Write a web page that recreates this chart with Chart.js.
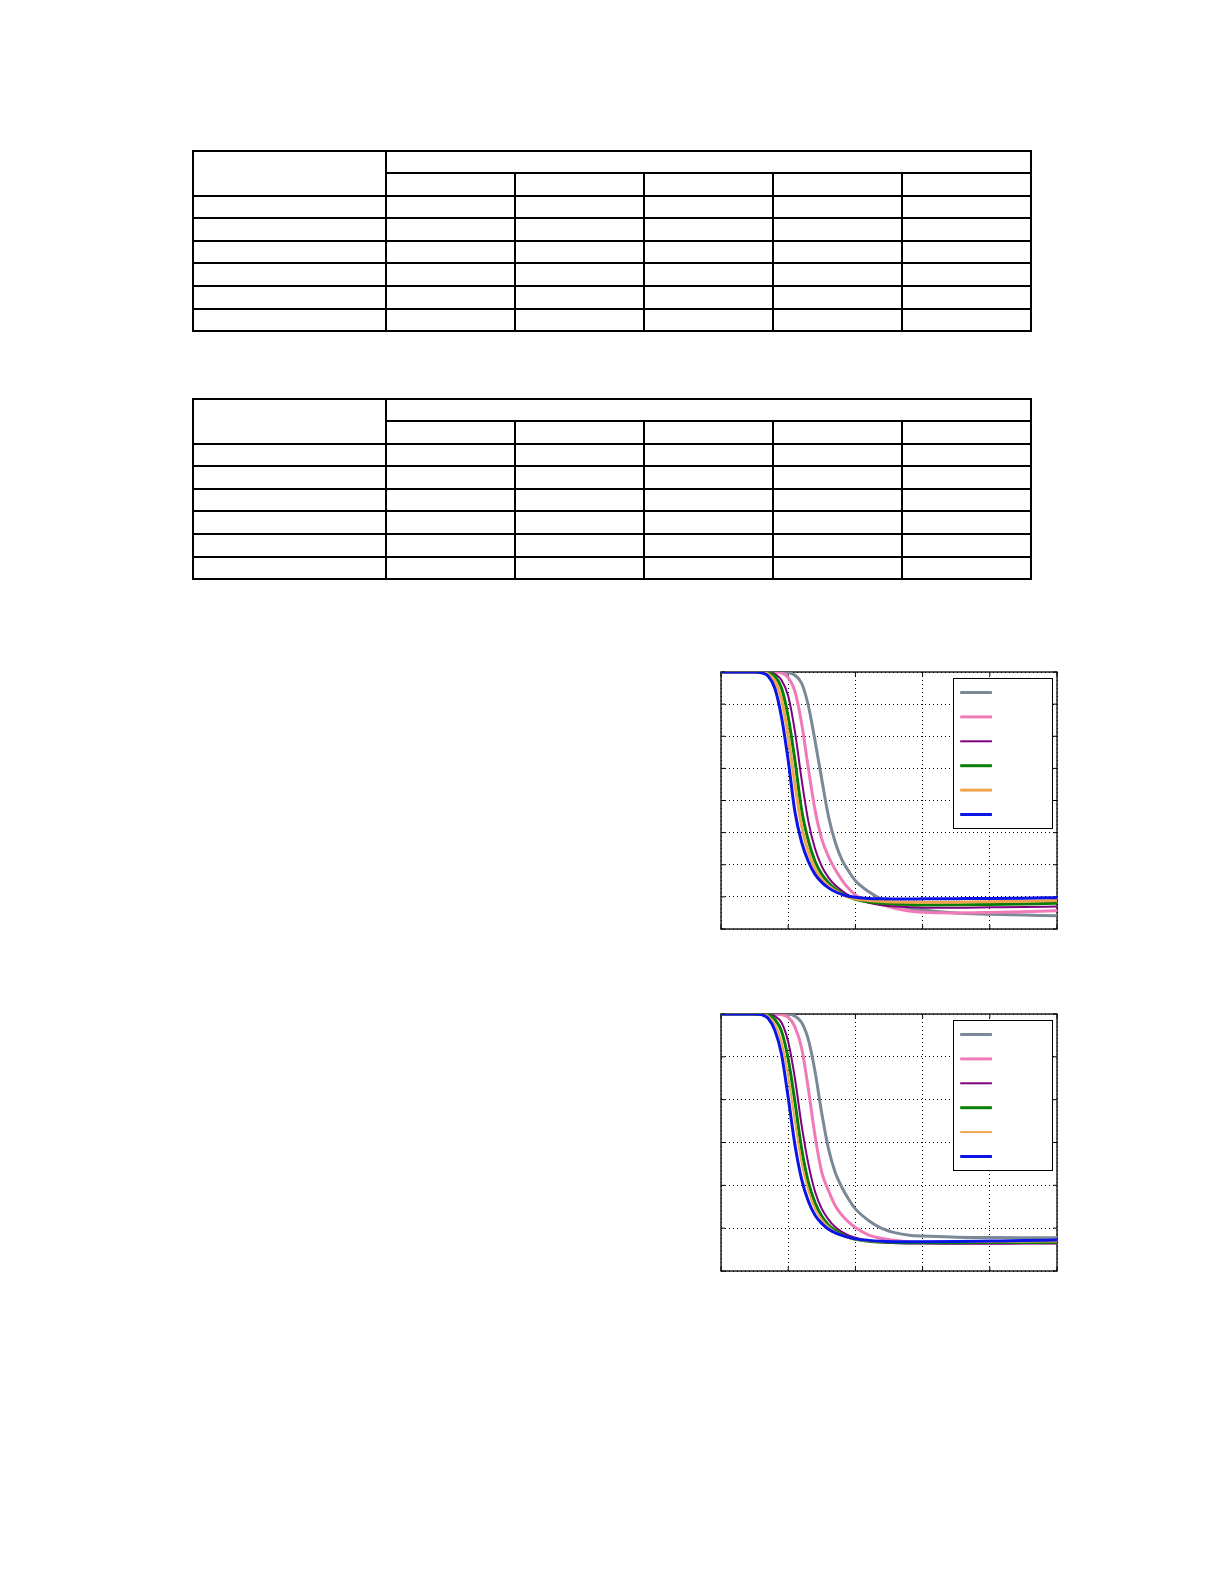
<!DOCTYPE html>
<html>
<head>
<meta charset="utf-8">
<script src="https://cdn.jsdelivr.net/npm/chart.js@4.4.0/dist/chart.umd.min.js"></script>
<style>
  body { margin: 0; background: #fff; font-family: "Liberation Serif", serif; }
  .page { position: relative; width: 1225px; height: 1585px; }
  table.grid { position: absolute; border-collapse: collapse; table-layout: fixed; width: 838px; }
  table.grid td { border: 2px solid #000; padding: 0; height: 20.6px; }
  canvas { position: absolute; }
</style>
</head>
<body>
<div class="page">
  <table class="grid" id="tabla1" style="left:192px; top:149.5px"></table>
  <table class="grid" id="tabla2" style="left:192px; top:397.5px"></table>
  <canvas id="chart-top" width="344" height="265" style="left:716.7px; top:668px"></canvas>
  <canvas id="chart-bottom" width="344" height="265" style="left:716.7px; top:1009.7px"></canvas>
</div>

<script>
/**
 * * datos (sin textos en la imagen)
 */
const xValues = [0, 0.5, 0.6, 0.7, 0.8, 0.9, 1.0, 1.1, 1.2, 1.3, 1.4, 1.5, 1.6, 1.7, 1.8, 1.9, 2.0, 2.2, 2.4, 2.6, 2.8, 3.0, 3.5, 4.0, 4.5, 5.0]

//* grafico superior
const topGrey   = [1.6, 1.6, 1.6, 1.6, 1.6, 1.6, 1.597, 1.58, 1.53, 1.39, 1.17, 0.93, 0.7, 0.54, 0.43, 0.36, 0.3, 0.232, 0.183, 0.15, 0.13, 0.118, 0.099, 0.092, 0.087, 0.082]
const topPink   = [1.6, 1.6, 1.6, 1.6, 1.6, 1.595, 1.565, 1.48, 1.28, 1.0, 0.74, 0.56, 0.45, 0.37, 0.305, 0.252, 0.212, 0.172, 0.15, 0.128, 0.112, 0.104, 0.1, 0.103, 0.108, 0.113]
const topPurple = [1.6, 1.6, 1.6, 1.6, 1.588, 1.55, 1.45, 1.23, 0.93, 0.67, 0.5, 0.39, 0.32, 0.272, 0.238, 0.21, 0.19, 0.163, 0.148, 0.14, 0.136, 0.133, 0.133, 0.135, 0.137, 0.14]
const topGreen  = [1.6, 1.6, 1.6, 1.595, 1.575, 1.5, 1.32, 1.05, 0.74, 0.55, 0.42, 0.34, 0.288, 0.25, 0.222, 0.2, 0.185, 0.168, 0.16, 0.155, 0.152, 0.15, 0.151, 0.153, 0.156, 0.16]
const topOrange = [1.6, 1.6, 1.598, 1.587, 1.545, 1.43, 1.2, 0.9, 0.64, 0.48, 0.375, 0.31, 0.268, 0.238, 0.215, 0.198, 0.188, 0.177, 0.171, 0.168, 0.166, 0.166, 0.167, 0.17, 0.173, 0.177]
const topBlue   = [1.6, 1.6, 1.595, 1.575, 1.5, 1.32, 1.05, 0.73, 0.54, 0.42, 0.34, 0.29, 0.256, 0.232, 0.216, 0.204, 0.197, 0.19, 0.188, 0.187, 0.187, 0.188, 0.189, 0.19, 0.192, 0.195]

//* grafico inferior
const botGrey   = [1.2, 1.2, 1.2, 1.2, 1.2, 1.2, 1.2, 1.19, 1.16, 1.08, 0.93, 0.735, 0.57, 0.46, 0.39, 0.335, 0.29, 0.235, 0.198, 0.178, 0.167, 0.163, 0.158, 0.156, 0.155, 0.155]
const botPink   = [1.2, 1.2, 1.2, 1.2, 1.2, 1.197, 1.185, 1.14, 1.04, 0.85, 0.63, 0.46, 0.375, 0.305, 0.26, 0.228, 0.203, 0.168, 0.152, 0.142, 0.136, 0.134, 0.132, 0.132, 0.132, 0.132]
const botPurple = [1.2, 1.2, 1.2, 1.2, 1.19, 1.16, 1.07, 0.9, 0.68, 0.5, 0.37, 0.29, 0.24, 0.205, 0.183, 0.166, 0.155, 0.14, 0.133, 0.13, 0.128, 0.128, 0.127, 0.127, 0.128, 0.128]
const botGreen  = [1.2, 1.2, 1.2, 1.197, 1.175, 1.12, 0.99, 0.79, 0.57, 0.415, 0.318, 0.256, 0.215, 0.19, 0.17, 0.157, 0.148, 0.139, 0.135, 0.133, 0.132, 0.132, 0.132, 0.133, 0.133, 0.134]
const botOrange = [1.2, 1.2, 1.2, 1.19, 1.155, 1.07, 0.91, 0.7, 0.505, 0.375, 0.29, 0.24, 0.205, 0.183, 0.166, 0.155, 0.148, 0.14, 0.137, 0.135, 0.135, 0.135, 0.135, 0.136, 0.137, 0.138]
const botBlue   = [1.2, 1.2, 1.197, 1.18, 1.125, 1.013, 0.81, 0.59, 0.428, 0.326, 0.26, 0.222, 0.195, 0.178, 0.166, 0.157, 0.15, 0.143, 0.139, 0.137, 0.137, 0.137, 0.138, 0.14, 0.142, 0.145]

const colores = ["#7b8896", "#f07ab8", "#800080", "#088008", "#f2a44c", "#0a14e6"]
const anchos = [3, 3, 2, 3, 3, 3]

//* tablas vacias (6 filas, 5 columnas de datos)
function armarTabla(id) {
  const t = document.getElementById(id)
  let html = '<colgroup><col style="width:193px"><col span="5" style="width:129px"></colgroup>'
  html += '<tr><td rowspan="2"></td><td colspan="5"></td></tr>'
  html += '<tr>' + '<td></td>'.repeat(5) + '</tr>'
  for (let i = 0; i < 6; i++) html += '<tr>' + '<td></td>'.repeat(6) + '</tr>'
  t.innerHTML = html
}
armarTabla("tabla1")
armarTabla("tabla2")

//! marco, ticks hacia adentro y leyenda dentro del area
const marcoYLeyenda = {
  id: "marcoYLeyenda",
  beforeDatasetsDraw(chart) {
    const { ctx, chartArea: a, scales } = chart
    ctx.save()
    ctx.strokeStyle = "#000"
    ctx.lineWidth = 1.3
    ctx.strokeRect(a.left, a.top, a.right - a.left, a.bottom - a.top)
    ctx.lineWidth = 1
    ctx.beginPath()
    scales.x.ticks.forEach(t => {
      const px = scales.x.getPixelForValue(t.value)
      ctx.moveTo(px, a.bottom); ctx.lineTo(px, a.bottom - 4)
      ctx.moveTo(px, a.top); ctx.lineTo(px, a.top + 4)
    })
    scales.y.ticks.forEach(t => {
      const py = scales.y.getPixelForValue(t.value)
      ctx.moveTo(a.left, py); ctx.lineTo(a.left + 4, py)
      ctx.moveTo(a.right, py); ctx.lineTo(a.right - 4, py)
    })
    ctx.stroke()
    ctx.restore()
  },
  afterDraw(chart) {
    const { ctx, chartArea: a } = chart
    const w = 99, h = 150
    const lx = Math.round(a.right - 4.7 - w) + 0.5
    const ly = Math.round(a.top + 5.5) + 0.5
    ctx.save()
    ctx.fillStyle = "#fff"
    ctx.fillRect(lx, ly, w, h)
    ctx.strokeStyle = "#000"
    ctx.lineWidth = 1
    ctx.strokeRect(lx, ly, w, h)
    chart.data.datasets.forEach((ds, i) => {
      const y = ly + 14 + i * 24.4
      ctx.strokeStyle = ds.borderColor
      ctx.lineWidth = ds.borderWidth
      ctx.beginPath()
      ctx.moveTo(lx + 6.7, y)
      ctx.lineTo(lx + 38.4, y)
      ctx.stroke()
    })
    ctx.restore()
  }
}

function datasets(series, orangeWidth) {
  return series.map((data, i) => ({
    label: "",
    data: data,
    borderColor: colores[i],
    borderWidth: i === 4 ? orangeWidth : anchos[i],
    pointRadius: 0,
    cubicInterpolationMode: "monotone",
    order: 6 - i,
  }))
}

function opciones(yMax) {
  const ejes = (min, max) => ({
    type: "linear",
    min: min,
    max: max,
    ticks: { display: false, stepSize: max === 5 ? 1 : 0.2 },
    grid: { color: "#000", lineWidth: 1, drawTicks: false },
    border: { display: false, dash: [1, 3] },
  })
  return {
    responsive: false,
    animation: false,
    layout: { padding: 4 },
    plugins: { legend: { display: false }, tooltip: { enabled: false } },
    scales: { x: ejes(0, 5), y: ejes(0, yMax) },
  }
}

const topChart = new Chart(document.querySelector("#chart-top").getContext("2d"), {
  type: "line",
  data: { labels: xValues, datasets: datasets([topGrey, topPink, topPurple, topGreen, topOrange, topBlue], 3) },
  options: opciones(1.6),
  plugins: [marcoYLeyenda],
})

const bottomChart = new Chart(document.querySelector("#chart-bottom").getContext("2d"), {
  type: "line",
  data: { labels: xValues, datasets: datasets([botGrey, botPink, botPurple, botGreen, botOrange, botBlue], 2) },
  options: opciones(1.2),
  plugins: [marcoYLeyenda],
})
</script>
</body>
</html>
